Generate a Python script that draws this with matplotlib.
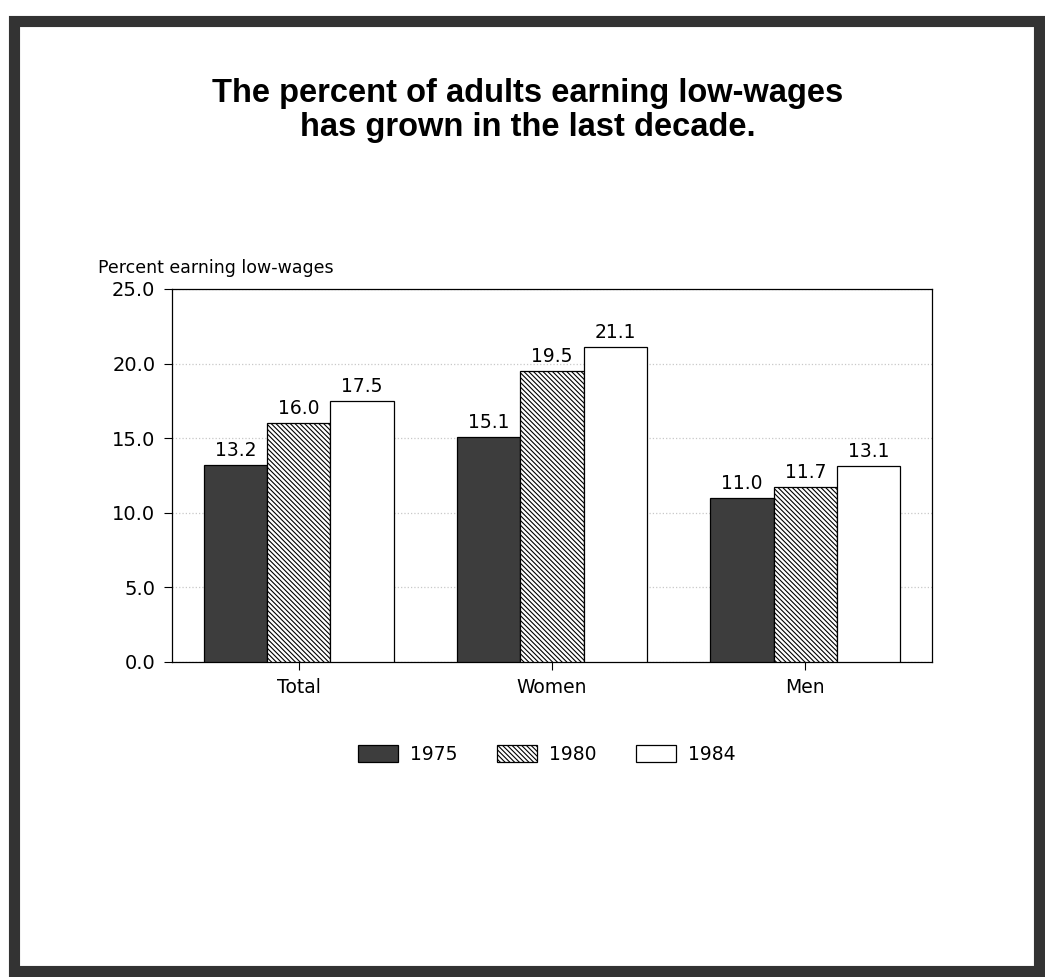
import matplotlib
matplotlib.use("Agg")
from matplotlib import pyplot as plt
from matplotlib.patches import Rectangle
import numpy as np

groups = ["Total", "Women", "Men"]
years = ["1975", "1980", "1984"]
pct_1975 = [13.2, 15.1, 11.0]
pct_1980 = [16.0, 19.5, 11.7]
pct_1984 = [17.5, 21.1, 13.1]
y_ticks = [0.0, 5.0, 10.0, 15.0, 20.0, 25.0]

plt.rcParams['font.family'] = ['DejaVu Sans']
plt.rcParams['hatch.linewidth'] = 0.8

fig = plt.figure(figsize=(10.45, 9.77), dpi=100)
fig.patch.set_facecolor('white')

# heavy border round the whole page
fig.patches.append(Rectangle((0.0134, 0.0061), 0.9806, 0.9724, transform=fig.transFigure,
                             fill=False, edgecolor='#333333', linewidth=8))

fig.text(0.505, 0.904, "The percent of adults earning low-wages", ha='center', va='center',
         fontsize=23.5, fontweight='bold', family='Liberation Sans')
fig.text(0.505, 0.869, "has grown in the last decade.", ha='center', va='center',
         fontsize=23.5, fontweight='bold', family='Liberation Sans')

ax = fig.add_axes([0.1646, 0.3229, 0.7273, 0.3813])

x = np.arange(len(groups))
w = 0.25
styles = [
    dict(color='#3d3d3d', edgecolor='black'),
    dict(color='white', edgecolor='black', hatch='\\' * 7),
    dict(color='white', edgecolor='black'),
]
series = [pct_1975, pct_1980, pct_1984]
for i, (vals, st, yr) in enumerate(zip(series, styles, years)):
    bars = ax.bar(x + (i - 1) * w, vals, w, linewidth=0.9, label=yr, zorder=3, **st)
    for b, v in zip(bars, vals):
        ax.annotate(f"{v:.1f}", (b.get_x() + b.get_width() / 2, v), xytext=(0, 3.5),
                    textcoords='offset points', ha='center', va='bottom', fontsize=13.5)

ax.set_xlim(-0.5, 2.5)
ax.set_ylim(0, 25)
ax.set_yticks(y_ticks)
ax.set_yticklabels([f"{t:.1f}" for t in y_ticks], fontsize=14)
ax.set_xticks(x)
ax.set_xticklabels(groups, fontsize=13.5)
ax.tick_params(axis='both', direction='out', length=6, width=0.8, pad=6)
for s in ax.spines.values():
    s.set_linewidth(0.9)
ax.yaxis.grid(True, color='#c8c8c8', linestyle=':', linewidth=0.9, zorder=0)

fig.text(0.094, 1 - 268 / 977, "Percent earning low-wages", ha='left', va='center', fontsize=12.5)

fig.legend(loc='center', bbox_to_anchor=(0.523, 0.228), ncol=3, frameon=False, fontsize=13.5,
           handlelength=2.13, handleheight=1.07, handletextpad=0.64, columnspacing=2.1)

fig.savefig("out.png", dpi=100, facecolor='white')
